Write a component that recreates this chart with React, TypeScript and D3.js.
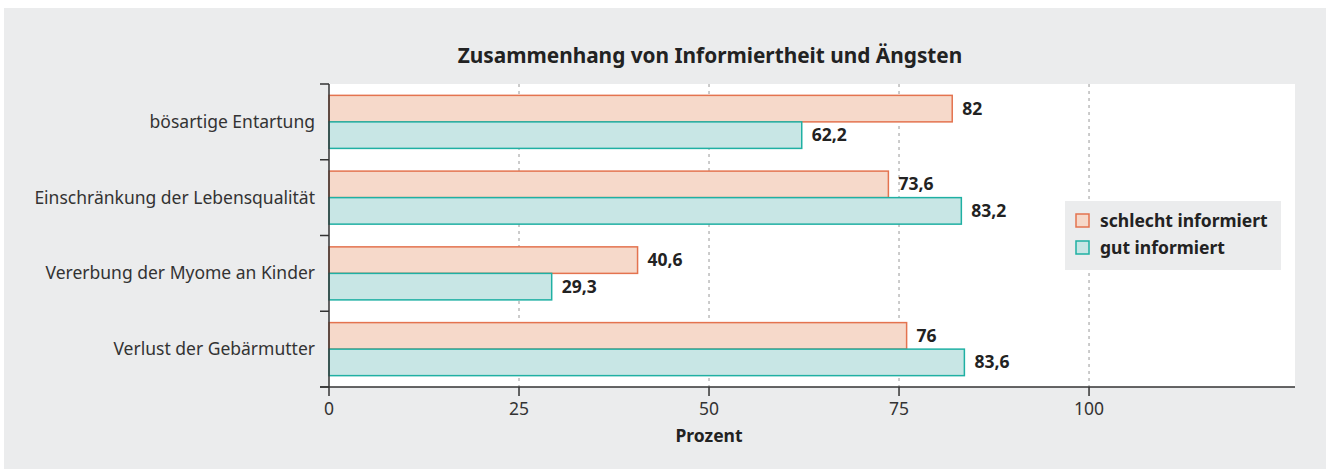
import React from "react";
import * as d3 from "d3";

const categories = [
  "bösartige Entartung",
  "Einschränkung der Lebensqualität",
  "Vererbung der Myome an Kinder",
  "Verlust der Gebärmutter",
];
const seriesNames = ["schlecht informiert", "gut informiert"];
const schlecht = [82, 73.6, 40.6, 76];
const gut = [62.2, 83.2, 29.3, 83.6];
const xTicks = [0, 25, 50, 75, 100];

const fills = ["#f6d9ca", "#c8e6e5"];
const strokes = ["#e4734f", "#1fb0a3"];
const FONT = "'Noto Sans', sans-serif";

export default function App() {
  const W = 1330, H = 469;
  const left = 329, right = 1295, top = 84, bottom = 387;
  const FS = 17.5;
  const x = d3.scaleLinear().domain([0, 127.1]).range([left, right]);
  const y = d3.scaleBand().domain(categories).range([top, bottom]).paddingInner(0.3).paddingOuter(0.15);
  const sub = d3.scaleBand().domain(seriesNames).range([0, y.bandwidth()]);
  const step = (bottom - top) / categories.length;
  const fmt = (v: number) => String(v).replace(".", ",");
  const data = [schlecht, gut];

  return (
    <svg width={W} height={H} style={{ position: "absolute", left: 0, top: 0 }} fontFamily={FONT}>
      <rect x={4} y={8} width={1322} height={461} fill="#ebeced" />
      <rect x={left} y={top} width={right - left} height={bottom - top} fill="#ffffff" />
      <text x={710} y={63} textAnchor="middle" fontSize={20.8} fontWeight="bold" fill="#222">
        Zusammenhang von Informiertheit und Ängsten
      </text>
      {xTicks.filter((t) => t > 0).map((t) => (
        <line key={t} x1={x(t)} x2={x(t)} y1={top} y2={bottom} stroke="#aaa" strokeWidth={1.2} strokeDasharray="3,4" />
      ))}
      {categories.map((c, i) =>
        data.map((s, j) => {
          const yy = (y(c) as number) + (sub(seriesNames[j]) as number);
          return (
            <g key={c + j}>
              <rect x={x(0)} y={yy} width={x(s[i]) - x(0)} height={sub.bandwidth()} fill={fills[j]} stroke={strokes[j]} strokeWidth={1.5} />
              <text x={x(s[i]) + 10} y={yy + sub.bandwidth() / 2 + 6} fontSize={FS} fontWeight="bold" fill="#222">
                {fmt(s[i])}
              </text>
            </g>
          );
        })
      )}
      {/* y axis */}
      <line x1={left} x2={left} y1={top} y2={bottom} stroke="#333" strokeWidth={1.5} />
      {d3.range(categories.length + 1).map((k) => (
        <line key={k} x1={left - 9} x2={left} y1={top + k * step} y2={top + k * step} stroke="#333" strokeWidth={1.5} />
      ))}
      {categories.map((c) => (
        <text key={c} x={315} y={(y(c) as number) + y.bandwidth() / 2 + 6} textAnchor="end" fontSize={FS} fill="#333">
          {c}
        </text>
      ))}
      {/* x axis */}
      <line x1={left - 9} x2={right} y1={bottom} y2={bottom} stroke="#333" strokeWidth={1.5} />
      {xTicks.map((t) => (
        <g key={t}>
          <line x1={x(t)} x2={x(t)} y1={bottom} y2={bottom + 9} stroke="#333" strokeWidth={1.5} />
          <text x={x(t)} y={bottom + 28} textAnchor="middle" fontSize={FS} fill="#333">
            {t}
          </text>
        </g>
      ))}
      <text x={x(50)} y={442} textAnchor="middle" fontSize={FS} fontWeight="bold" fill="#222">
        Prozent
      </text>
      {/* legend */}
      <rect x={1065} y={201} width={216} height={69} fill="#ebeced" />
      {seriesNames.map((n, j) => (
        <g key={n}>
          <rect x={1076} y={214 + j * 27} width={13} height={13} fill={fills[j]} stroke={strokes[j]} strokeWidth={1.5} />
          <text x={1100} y={227 + j * 27} fontSize={FS} fontWeight="bold" fill="#222">
            {n}
          </text>
        </g>
      ))}
    </svg>
  );
}
